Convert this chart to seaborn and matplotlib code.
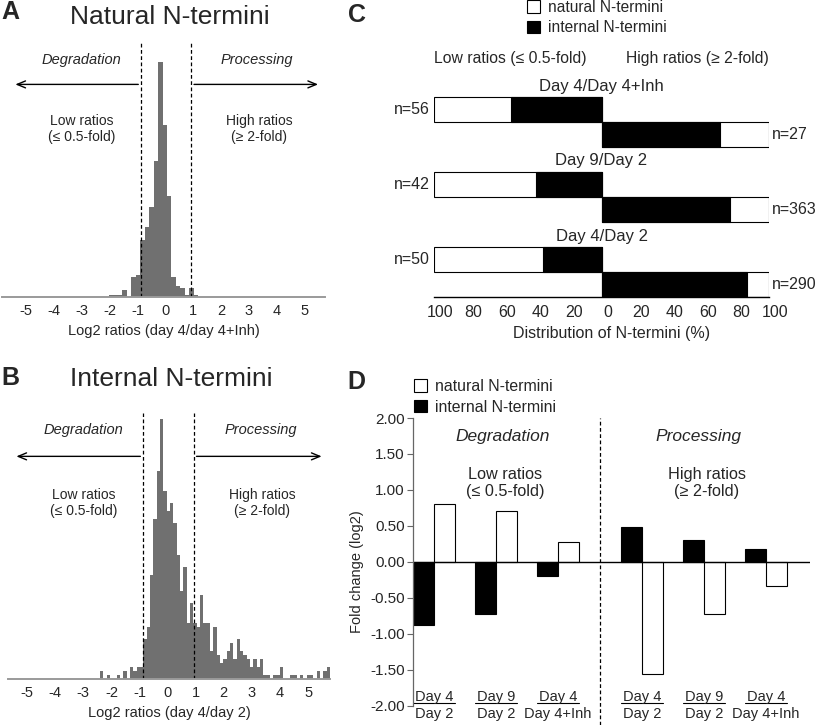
import numpy as np
import pandas as pd
import matplotlib
matplotlib.use('Agg')
import matplotlib.pyplot as plt
from matplotlib.patches import Patch
from matplotlib.transforms import ScaledTranslation
import seaborn as sns

# A: natural N-termini, log2 ratios day 4 / day 4+Inh (counts per bin)
nat_counts = [1, 1, 1, 3, 0, 9, 10, 26, 32, 41, 62, 107, 78, 46, 9, 5, 4, 1, 4, 1]
nat_start, nat_width = -2.02, 0.16

# B: internal N-termini, log2 ratios day 4 / day 2 (counts per bin)
int_counts = [2, 0, 1, 0, 0, 1, 0, 2, 0, 3, 2, 3, 3, 10, 13, 26, 40, 52, 65, 47,
              42, 44, 39, 31, 22, 28, 14, 19, 14, 13, 21, 14, 14, 7, 13, 6, 4, 5, 7, 9,
              5, 10, 7, 6, 5, 3, 5, 3, 5, 1, 1, 0, 1, 1, 3, 0, 0, 1, 1, 0,
              1, 0, 1, 1, 0, 2, 0, 2, 3]
int_start, int_width = -2.40, 0.1186

# C: share of internal N-termini (%) among low / high ratios
c_groups = ['Day 4/Day 4+Inh', 'Day 9/Day 2', 'Day 4/Day 2']
c_low_n = [56, 42, 50]
c_high_n = [27, 363, 290]
c_low_internal = [54, 39, 35]
c_high_internal = [71, 77, 87]

# D: fold change (log2)
d_top = ['Day 4', 'Day 9', 'Day 4', 'Day 4', 'Day 9', 'Day 4']
d_bottom = ['Day 2', 'Day 2', 'Day 4+Inh', 'Day 2', 'Day 2', 'Day 4+Inh']
d_internal = [-0.87, -0.72, -0.20, 0.49, 0.31, 0.18]
d_natural = [0.80, 0.71, 0.28, -1.55, -0.72, -0.34]

sns.set_style('white')
plt.rcParams['font.family'] = ['Liberation Sans', 'DejaVu Sans']
plt.rcParams['axes.unicode_minus'] = False

HIST = '#707070'
CUTS = (-0.87, 0.93)
DASH = (0, (3, 2))

fig = plt.figure(figsize=(8.17, 7.25), dpi=100)
W, H = 817, 725


def rect(x0, y0, x1, y1):
    # pixel box -> figure fraction
    return [x0 / W, 1 - y1 / H, (x1 - x0) / W, (y1 - y0) / H]


def histo(ax, counts, start, width, xlim, ylim, xlabel):
    edges = start + width * np.arange(len(counts) + 1)
    hist_df = pd.DataFrame({'ratio': edges[:-1] + width / 2, 'n': counts})
    sns.histplot(data=hist_df, x='ratio', weights='n', bins=edges.tolist(), element='step',
                 color=HIST, alpha=1, linewidth=0, ax=ax)
    ax.set_xlim(*xlim)
    ax.set_ylim(*ylim)
    ax.set_ylabel('')
    ax.set_yticks([])
    for s in ['left', 'right', 'top']:
        ax.spines[s].set_visible(False)
    ax.spines['bottom'].set_color('#9a9a9a')
    ax.spines['bottom'].set_linewidth(1.4)
    ax.set_xticks(range(-5, 6))
    ax.tick_params(axis='x', length=0, pad=5, labelsize=10.5)
    ax.set_xlabel(xlabel, fontsize=10.5, labelpad=4)
    for c in CUTS:
        ax.axvline(c, color='black', lw=0.9, ls=DASH)
    tr = ax.get_xaxis_transform()
    ax.text(-3.0, 0.935, 'Degradation', style='italic', fontsize=10.5,
            ha='center', va='center', transform=tr)
    ax.text(3.3, 0.935, 'Processing', style='italic', fontsize=10.5,
            ha='center', va='center', transform=tr)
    arrow = dict(arrowstyle='->,head_length=0.6,head_width=0.25', lw=1, color='black')
    ax.annotate('', xy=(-5.48, 0.837), xytext=(CUTS[0], 0.837), xycoords=tr,
                textcoords=tr, arrowprops=arrow)
    ax.annotate('', xy=(5.58, 0.837), xytext=(CUTS[1], 0.837), xycoords=tr,
                textcoords=tr, arrowprops=arrow)
    ax.text(-3.0, 0.662, 'Low ratios\n(≤ 0.5-fold)', fontsize=10, ha='center',
            va='center', transform=tr)
    ax.text(3.37, 0.662, 'High ratios\n(≥ 2-fold)', fontsize=10, ha='center',
            va='center', transform=tr)


axA = fig.add_axes(rect(2, 43, 325, 297))
histo(axA, nat_counts, nat_start, nat_width, (-5.86, 5.73), (0, 115.5),
      'Log2 ratios (day 4/day 4+Inh)')
axB = fig.add_axes(rect(8, 413, 330, 679))
histo(axB, int_counts, int_start, int_width, (-5.68, 5.78), (0, 66.5),
      'Log2 ratios (day 4/day 2)')

fig.text(170 / W, 1 - 17 / H, 'Natural N-termini', fontsize=19, ha='center', va='center')
fig.text(171 / W, 1 - 379 / H, 'Internal N-termini', fontsize=19, ha='center', va='center')
for letter, x, y in [('A', 10, 12), ('B', 10, 378), ('C', 357, 15), ('D', 356, 382)]:
    fig.text(x / W, 1 - y / H, letter, fontsize=18, weight='bold', ha='center', va='center')

# C: diverging stacked bars
axC = fig.add_axes(rect(434, 72, 769, 297))
for g, name in enumerate(c_groups):
    y_low, y_high = 3 * g + 1.5, 3 * g + 2.5
    axC.barh(y_low, -100, height=1, color='white', edgecolor='black', lw=0.8)
    axC.barh(y_low, -c_low_internal[g], height=1, color='black', edgecolor='black', lw=0.8)
    axC.barh(y_high, 100, height=1, color='white', edgecolor='black', lw=0.8)
    axC.barh(y_high, c_high_internal[g], height=1, color='black', edgecolor='black', lw=0.8)
    axC.text(0, 3 * g + 0.56, name, fontsize=12, ha='center', va='center')
    axC.text(-102.5, y_low, f'n={c_low_n[g]}', fontsize=11.5, ha='right', va='center')
    axC.text(102, y_high, f'n={c_high_n[g]}', fontsize=11.5, ha='left', va='center')
axC.set_xlim(-100, 100)
axC.set_ylim(9, 0)
axC.set_yticks([])
ticks = np.arange(-100, 101, 20)
axC.set_xticks(ticks)
axC.set_xticklabels([str(abs(t)) for t in ticks])
axC.tick_params(axis='x', length=0, pad=6, labelsize=11.5)
shift = ScaledTranslation(6 / 100, 0, fig.dpi_scale_trans)
for lab in axC.get_xticklabels():
    lab.set_transform(lab.get_transform() + shift)
axC.set_xlabel('Distribution of N-termini (%)', fontsize=11.5, labelpad=5)
axC.xaxis.set_label_coords(0.53, -0.13)
for s in ['left', 'right', 'top']:
    axC.spines[s].set_visible(False)
axC.spines['bottom'].set_color('black')
axC.spines['bottom'].set_linewidth(1)
axC.text(-100, -0.56, 'Low ratios (≤ 0.5-fold)', fontsize=11.3, ha='left', va='center')
axC.text(100, -0.56, 'High ratios (≥ 2-fold)', fontsize=11.3, ha='right', va='center')

handles = [Patch(facecolor='white', edgecolor='black', lw=0.8),
           Patch(facecolor='black', edgecolor='black', lw=0.8)]
labels = ['natural N-termini', 'internal N-termini']
leg_kw = dict(frameon=False, handlelength=0.85, handleheight=0.85, handletextpad=0.5,
              labelspacing=0.35, borderpad=0, borderaxespad=0, loc='upper left')
fig.legend(handles, labels, bbox_to_anchor=(527 / W, 1 - 0 / H), fontsize=11.2, **leg_kw)

# D: grouped bars
pos = np.r_[np.arange(3), np.arange(3) + 3.35]
df = pd.DataFrame({
    'pos': np.r_[pos, pos],
    'value': d_internal + d_natural,
    'type': ['internal'] * 6 + ['natural'] * 6,
})
axD = fig.add_axes(rect(413, 418, 810, 725))
sns.barplot(data=df, x='pos', y='value', hue='type', hue_order=['internal', 'natural'],
            palette={'internal': 'black', 'natural': 'white'}, native_scale=True,
            width=0.68, saturation=1, edgecolor='black', linewidth=0.8,
            errorbar=None, legend=False, ax=axD)
axD.set_xlim(-0.34, 6.06)
axD.set_ylim(-2.264, 2.0)
axD.axhline(0, color='black', lw=1)
axD.axvline((pos[2] + pos[3]) / 2, color='black', lw=0.9, ls=DASH)
axD.set_xticks([])
axD.set_xlabel('')
axD.set_yticks(np.arange(-2, 2.01, 0.5))
axD.set_yticklabels([f'{v:.2f}' for v in np.arange(-2, 2.01, 0.5)])
axD.tick_params(axis='y', direction='out', length=4, width=0.8, pad=2, labelsize=11,
                left=True, color='#666666')
axD.set_ylabel('Fold change (log2)', fontsize=10.5, labelpad=4)
for s in ['right', 'top', 'bottom']:
    axD.spines[s].set_visible(False)
axD.spines['left'].set_color('#666666')
axD.spines['left'].set_linewidth(0.9)
axD.spines['left'].set_bounds(-2, 2)
for p, top, bottom in zip(pos, d_top, d_bottom):
    axD.text(p, -1.875, top, fontsize=10.5, ha='center', va='center')
    axD.text(p, -2.11, bottom, fontsize=10.5, ha='center', va='center')
    axD.plot([p - 0.34, p + 0.34], [-1.96, -1.96], color='black', lw=0.8)
axD.text(1.10, 1.74, 'Degradation', style='italic', fontsize=12.5, ha='center', va='center')
axD.text(4.26, 1.74, 'Processing', style='italic', fontsize=12.5, ha='center', va='center')
axD.text(1.15, 1.10, 'Low ratios\n(≤ 0.5-fold)', fontsize=11.7, ha='center', va='center')
axD.text(4.40, 1.10, 'High ratios\n(≥ 2-fold)', fontsize=11.7, ha='center', va='center')
fig.legend(handles, labels, bbox_to_anchor=(414 / W, 1 - 379 / H), fontsize=11.4, **leg_kw)

fig.savefig('out.png', dpi=100)
